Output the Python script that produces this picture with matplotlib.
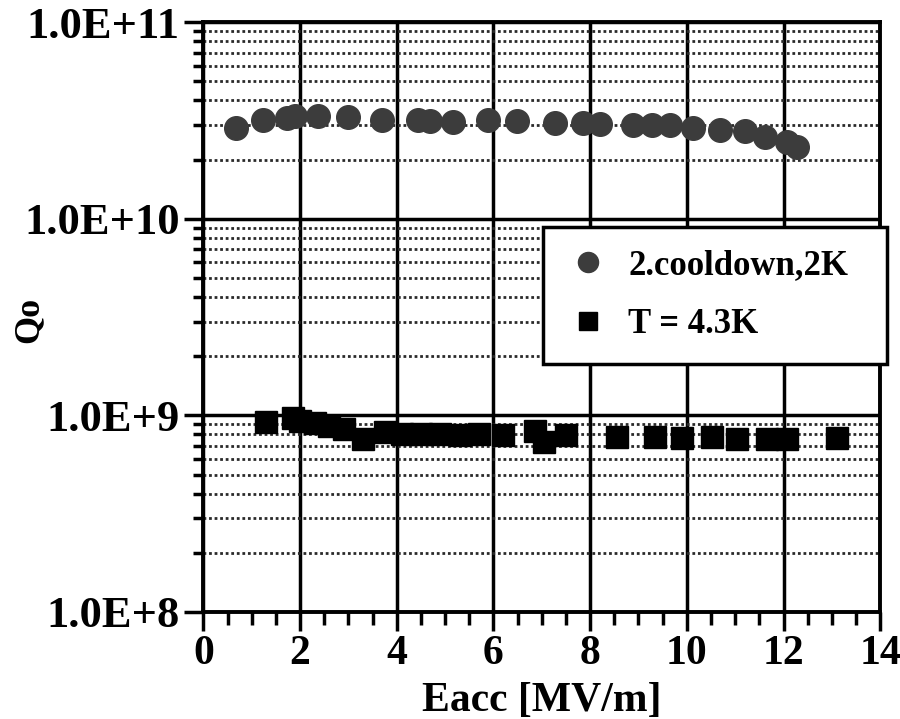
import numpy as np
import matplotlib
matplotlib.use("Agg")
import matplotlib.pyplot as plt
from matplotlib.ticker import FixedLocator, FuncFormatter, MultipleLocator

# =========================
# Données
# =========================

eacc_2k = [0.68, 1.24, 1.73, 1.90, 2.38, 2.99, 3.70, 4.44, 4.69, 5.17, 5.89, 6.49,
           7.28, 7.86, 8.21, 8.89, 9.28, 9.66, 10.13, 10.69, 11.21, 11.62, 12.08, 12.28]
q0_2k = [2.9e10, 3.18e10, 3.25e10, 3.33e10, 3.35e10, 3.3e10, 3.2e10, 3.2e10, 3.15e10, 3.1e10,
         3.2e10, 3.15e10, 3.07e10, 3.07e10, 3.05e10, 3.0e10, 3.0e10, 3.0e10, 2.9e10, 2.83e10,
         2.8e10, 2.6e10, 2.46e10, 2.32e10]

eacc_43k = [1.3, 1.85, 2.0, 2.3, 2.6, 2.9, 3.3, 3.75, 4.1, 4.5, 4.9, 5.3, 5.7, 6.2,
            6.85, 7.05, 7.5, 8.56, 9.35, 9.9, 10.52, 11.04, 11.66, 12.08, 13.11]
q0_43k = [9.3e8, 9.7e8, 9.4e8, 9.1e8, 8.8e8, 8.5e8, 7.6e8, 8.2e8, 8.0e8, 8.0e8, 8.0e8,
          7.9e8, 8.0e8, 7.9e8, 8.3e8, 7.3e8, 7.9e8, 7.8e8, 7.8e8, 7.7e8, 7.8e8, 7.6e8,
          7.6e8, 7.6e8, 7.7e8]

labels = ["2.cooldown,2K", "T = 4.3K"]

plt.rcParams["font.family"] = ["Liberation Serif", "DejaVu Serif"]
plt.rcParams["font.weight"] = "bold"
plt.rcParams["axes.labelweight"] = "bold"

fig = plt.figure(figsize=(9, 7.19), dpi=100)
ax = fig.add_axes([0.226, 0.149, 0.752, 0.820])

ax.set_yscale("log")
ax.set_xlim(0, 14)
ax.set_ylim(1e8, 1e11)

# grille
ax.xaxis.set_major_locator(MultipleLocator(2))
ax.xaxis.set_minor_locator(MultipleLocator(0.5))
ax.yaxis.set_major_locator(FixedLocator([1e8, 1e9, 1e10, 1e11]))
minors = [m * 10.0 ** e for e in (8, 9, 10) for m in range(2, 10)]
ax.yaxis.set_minor_locator(FixedLocator(minors))
ax.yaxis.set_major_formatter(FuncFormatter(lambda v, p: "1.0E+%d" % round(np.log10(v))))

ax.grid(which="major", color="black", linewidth=2.5)
ax.grid(which="minor", axis="y", color="#2a2a2a", linewidth=2.0, linestyle=(0, (1, 1)))
ax.set_axisbelow(True)

for s in ax.spines.values():
    s.set_linewidth(2.8)

ax.tick_params(which="major", direction="out", length=14, width=2.5, pad=3)
ax.tick_params(which="minor", direction="out", length=7, width=2.5)
ax.tick_params(axis="x", which="minor", length=9)
ax.tick_params(axis="y", which="major", labelsize=32)
ax.tick_params(axis="x", which="major", labelsize=30)

ax.plot(eacc_2k, q0_2k, "o", color="#3c3c3c", markersize=17, label=labels[0], zorder=3)
ax.plot(eacc_43k, q0_43k, "s", color="black", markersize=15.5, label=labels[1], zorder=3)

ax.set_xlabel("Eacc [MV/m]", fontsize=30, labelpad=6)
ax.set_ylabel("Qo", fontsize=26)
ax.yaxis.set_label_coords(-0.233, 0.495)

leg = ax.legend(loc="upper left", bbox_to_anchor=(0.502, 0.419, 0.508, 0.234), mode="expand",
                borderaxespad=0, fontsize=25, frameon=True, fancybox=False, framealpha=1,
                edgecolor="black", markerscale=0.85, handletextpad=0.5, labelspacing=0.75,
                borderpad=0.65, handlelength=1.3)
leg.get_frame().set_linewidth(2.5)
leg.set_zorder(5)

plt.savefig("out.png", dpi=100)
